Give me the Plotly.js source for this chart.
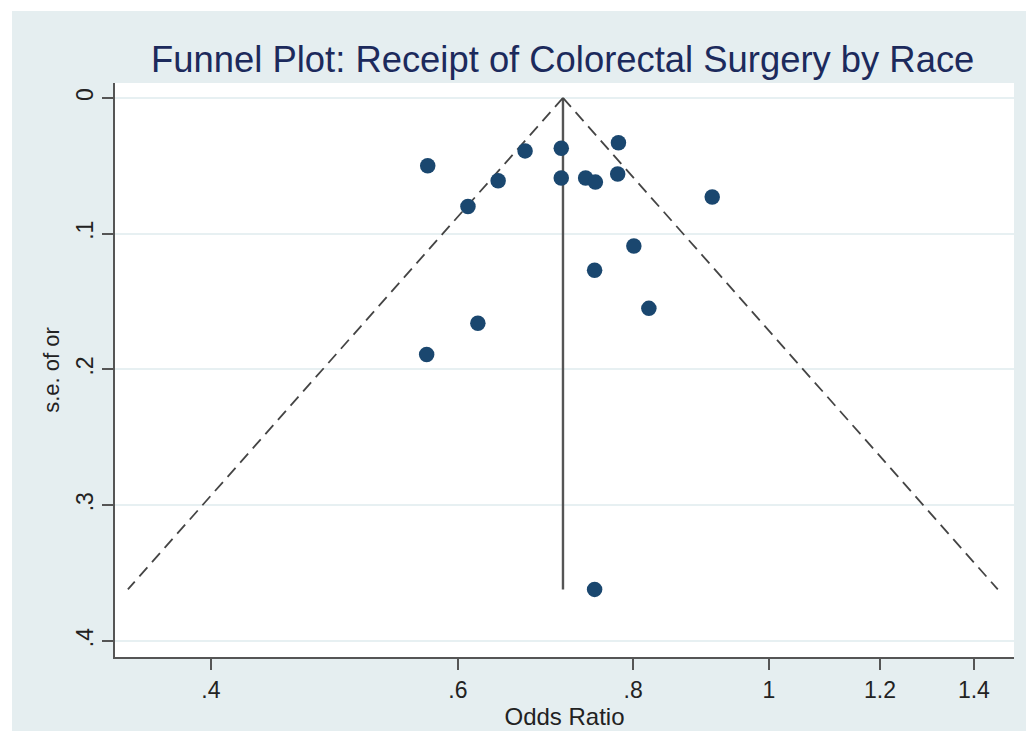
<!DOCTYPE html>
<html>
<head>
<meta charset="utf-8">
<script src="https://cdn.plot.ly/plotly-3.0.1.min.js"></script>
<style>
  html, body { margin: 0; padding: 0; background: #ffffff; }
  #wrap { position: absolute; left: 12px; top: 11px; width: 1014px; height: 720px; }
</style>
</head>
<body>
<div id="wrap"></div>
<script>
// Study estimates
const studyOR = [0.571, 0.670, 0.711, 0.781, 0.641, 0.711, 0.740, 0.752, 0.780, 0.610, 0.911, 0.801, 0.751, 0.821, 0.620, 0.570, 0.751];
const studySE = [0.050, 0.039, 0.037, 0.033, 0.061, 0.059, 0.059, 0.062, 0.056, 0.080, 0.073, 0.109, 0.127, 0.155, 0.166, 0.189, 0.362];

// Pooled estimate and pseudo 95% confidence limits
const pooledOR = [0.713, 0.713];
const limitSE = [0, 0.362];
const lowerLimitOR = [0.713, 0.349];
const upperLimitOR = [0.713, 1.456];

// Axis ticks
const xTickVals = [0.4, 0.6, 0.8, 1, 1.2, 1.4];
const xTickText = ['.4', '.6', '.8', '1', '1.2', '1.4'];
const yTickVals = [0, 0.1, 0.2, 0.3, 0.4];
const yTickText = ['0', '.1', '.2', '.3', '.4'];

const FONT = 'Liberation Sans, Arial, sans-serif';

const traces = [
  {
    x: pooledOR, y: limitSE, type: 'scatter', mode: 'lines',
    line: {color: '#555555', width: 2.4}, hoverinfo: 'skip', showlegend: false
  },
  {
    x: lowerLimitOR, y: limitSE, type: 'scatter', mode: 'lines',
    line: {color: '#444444', width: 1.8, dash: '12px,7px'}, hoverinfo: 'skip', showlegend: false
  },
  {
    x: upperLimitOR, y: limitSE, type: 'scatter', mode: 'lines',
    line: {color: '#444444', width: 1.8, dash: '12px,7px'}, hoverinfo: 'skip', showlegend: false
  },
  {
    x: studyOR, y: studySE, type: 'scatter', mode: 'markers',
    marker: {color: '#1a476f', size: 15.5, line: {width: 0}}, showlegend: false
  }
];

const layout = {
  width: 1014, height: 720,
  margin: {l: 103, r: 12, t: 72, b: 74, pad: 0},
  paper_bgcolor: '#e5eef0',
  plot_bgcolor: '#ffffff',
  font: {family: FONT, color: '#222222'},
  showlegend: false,
  title: {
    text: 'Funnel Plot: Receipt of Colorectal Surgery by Race',
    font: {family: FONT, size: 36.4, color: '#1c2a5c'},
    xref: 'paper', x: 0.498, xanchor: 'center',
    yref: 'container', y: 0.933, yanchor: 'middle'
  },
  xaxis: {
    type: 'log',
    range: [-0.46637, 0.17472],
    tickvals: xTickVals, ticktext: xTickText,
    tickfont: {family: FONT, size: 23, color: '#222222'},
    ticks: 'outside', ticklen: 11, tickwidth: 2, tickcolor: '#555555',
    showline: true, linecolor: '#555555', linewidth: 2,
    showgrid: false, zeroline: false,
    automargin: false,
    title: {text: 'Odds Ratio', font: {family: FONT, size: 24, color: '#222222'}, standoff: 2}
  },
  yaxis: {
    range: [0.4118, -0.011],
    tickvals: yTickVals, ticktext: yTickText,
    tickangle: -90,
    tickfont: {family: FONT, size: 23, color: '#222222'},
    ticks: 'outside', ticklen: 11, tickwidth: 2, tickcolor: '#555555',
    showline: true, linecolor: '#555555', linewidth: 2,
    showgrid: true, gridcolor: '#e7f0f2', gridwidth: 2,
    zeroline: false,
    automargin: false,
    title: {text: 's.e. of or', font: {family: FONT, size: 22, color: '#222222'}, standoff: 6}
  }
};

Plotly.newPlot('wrap', traces, layout, {displayModeBar: false, staticPlot: true});
</script>
</body>
</html>
